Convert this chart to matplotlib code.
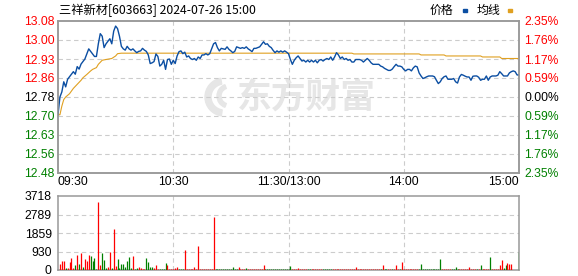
import numpy as np
import matplotlib
matplotlib.use("Agg")
import matplotlib.pyplot as plt
from matplotlib.patches import Rectangle, Wedge
from matplotlib.transforms import IdentityTransform

plt.rcParams['font.family'] = ['Liberation Sans', 'Noto Sans CJK SC', 'DejaVu Sans']

# ---- chart text / axes values
title = "三祥新材[603663] 2024-07-26 15:00"
prev_close = 12.78
price_labels = ["12.48", "12.56", "12.63", "12.70", "12.78", "12.86", "12.93", "13.00", "13.08"]
pct_labels = ["2.35%", "1.76%", "1.17%", "0.59%", "0.00%", "0.59%", "1.17%", "1.76%", "2.35%"]
time_ticks = [0, 60, 120, 180, 240]
time_labels = ["09:30", "10:30", "11:30/13:00", "14:00", "15:00"]
vol_labels = ["0", "930", "1859", "2789", "3718"]
vol_max = 3718

# ---- last price, one value per minute (09:30 .. 15:00)
price = [
    12.71, 12.78, 12.80, 12.84, 12.82, 12.85, 12.86, 12.87, 12.88, 12.87,
    12.90, 12.89, 12.91, 12.92, 12.93, 12.95, 12.97, 12.96, 12.95, 12.94,
    12.94, 12.99, 13.03, 13.02, 12.975, 12.99, 13.00, 13.01, 12.99, 13.04,
    13.06, 13.05, 13.02, 12.98, 12.97, 12.965, 12.98, 12.97, 12.965, 12.97,
    12.962, 12.955, 12.96, 12.962, 12.972, 12.965, 12.96, 12.946, 12.912, 12.915,
    12.92, 12.95, 12.94, 12.902, 12.909, 12.925, 12.889, 12.928, 12.93, 12.909,
    12.925, 12.912, 12.942, 12.959, 12.962, 12.951, 12.957, 12.938, 12.942, 12.932,
    12.928, 12.932, 12.925, 12.938, 12.932, 12.946, 12.946, 12.951, 12.946, 12.951,
    12.97, 12.99, 12.995, 12.975, 12.962, 12.972, 12.97, 12.968, 12.978, 12.968,
    12.962, 12.955, 12.96, 12.978, 12.975, 12.972, 12.975, 12.972, 12.978, 12.97,
    12.965, 12.959, 12.972, 12.972, 12.975, 12.978, 12.988, 12.998, 12.988, 12.99,
    12.98, 12.975, 12.964, 12.955, 12.962, 12.957, 12.962, 12.957, 12.962, 12.957,
    12.951, 12.928, 12.909, 12.925, 12.935, 12.942, 12.932, 12.922, 12.925, 12.918,
    12.925, 12.918, 12.925, 12.918, 12.925, 12.915, 12.925, 12.928, 12.922, 12.928,
    12.932, 12.928, 12.938, 12.925, 12.938, 12.955, 12.946, 12.932, 12.938, 12.928,
    12.932, 12.925, 12.928, 12.918, 12.918, 12.928, 12.928, 12.928, 12.925, 12.918,
    12.925, 12.932, 12.925, 12.915, 12.909, 12.909, 12.909, 12.909, 12.902, 12.899,
    12.893, 12.889, 12.885, 12.885, 12.89, 12.90, 12.909, 12.902, 12.902, 12.899,
    12.889, 12.883, 12.889, 12.889, 12.883, 12.895, 12.902, 12.899, 12.875, 12.863,
    12.853, 12.856, 12.86, 12.863, 12.863, 12.863, 12.86, 12.846, 12.833, 12.84,
    12.853, 12.86, 12.863, 12.85, 12.85, 12.85, 12.853, 12.84, 12.835, 12.859,
    12.869, 12.866, 12.862, 12.859, 12.859, 12.846, 12.862, 12.863, 12.863, 12.858,
    12.846, 12.85, 12.85, 12.863, 12.846, 12.859, 12.863, 12.863, 12.863, 12.866,
    12.88, 12.872, 12.863, 12.863, 12.863, 12.875, 12.88, 12.883, 12.88, 12.867,
    12.867,
]

# ---- average price line (minute, value) where it changes
avg_min = [0, 1, 2, 3, 4, 6, 8, 10, 12, 13, 15, 17, 18, 20, 21, 23, 25, 28, 30,
           31, 33, 153, 154, 188, 189, 201, 202, 220, 221, 230, 231, 240]
avg_val = [12.71, 12.71, 12.744, 12.77, 12.78, 12.793, 12.814, 12.83, 12.846, 12.856,
           12.869, 12.883, 12.889, 12.896, 12.909, 12.925, 12.928, 12.932, 12.942,
           12.951, 12.953, 12.953, 12.95, 12.95, 12.946, 12.946, 12.942, 12.942,
           12.938, 12.938, 12.932, 12.932]

# ---- volume per minute and up/down flag (r = up, g = down)
volume = [
    0, 300, 450, 450, 85, 85, 400, 600, 85, 250,
    750, 300, 850, 130, 550, 450, 750, 700, 450, 600,
    50, 3420, 250, 850, 500, 85, 130, 900, 85, 2060,
    200, 550, 85, 300, 300, 130, 450, 650, 85, 700,
    50, 85, 130, 85, 50, 50, 600, 400, 130, 130,
    85, 250, 50, 60, 60, 60, 350, 250, 60, 60,
    60, 85, 130, 60, 60, 60, 1000, 60, 60, 60,
    60, 130, 60, 1200, 60, 60, 60, 60, 60, 60,
    60, 2660, 60, 60, 60, 60, 60, 60, 60, 60,
    60, 130, 60, 60, 130, 60, 60, 60, 85, 60,
    60, 60, 60, 60, 60, 60, 60, 230, 60, 60,
    60, 60, 60, 60, 60, 60, 60, 60, 60, 60,
    60, 200, 60, 60, 60, 100, 60, 60, 60, 60,
    60, 60, 60, 60, 60, 60, 60, 60, 60, 60,
    60, 60, 60, 60, 60, 60, 60, 60, 60, 60,
    60, 60, 60, 60, 60, 130, 60, 60, 60, 60,
    60, 60, 60, 60, 60, 60, 60, 60, 60, 250,
    60, 60, 60, 60, 60, 60, 250, 60, 60, 400,
    60, 60, 60, 60, 60, 60, 60, 60, 60, 300,
    60, 60, 60, 60, 60, 60, 60, 60, 60, 550,
    60, 60, 60, 60, 60, 60, 60, 130, 60, 60,
    60, 60, 60, 60, 130, 60, 60, 60, 60, 60,
    250, 60, 60, 60, 60, 650, 60, 60, 60, 60,
    250, 500, 100, 250, 350, 300, 300, 0, 0, 0,
    900,
]
vol_dir = ("rrrrgrrrrg" "rgrgrrrggg" "grrgggrrgr" "rggggggggr" "ggrrrrgggg"
           "rrrggggrrr" "rrrgggrrrr" "rrrrrrrrrr" "rrgggggggg" "ggggrrrrgr"
           "rrrrrrrrgg" "gggggggggg" "ggrrrrrrrr" "ggrrrrrrgg" "gggrrrrrrr"
           "rrrrrrrrrr" "rrrrrrrrgr" "ggrrgrrrgr" "rrrrrrrrgg" "gggggggggg"
           "rrrrrggggr" "rrrrrrrrgr" "grrrrgrrrr" "rrggrrrrrr" "g")

RED = '#ff0000'
GREEN = '#008000'
BLUE = '#0b4ea2'
GOLD = '#e0a020'
BORDER = '#999999'
GRID = '#cccccc'
MARK = '#e6e6e6'

W, H = 578, 276
fig = plt.figure(figsize=(W / 100, H / 100), dpi=100)


def rect(x0, y0, x1, y1):
    # pixel box -> figure fraction
    return [x0 / W, 1 - y1 / H, (x1 - x0) / W, (y1 - y0) / H]


ax = fig.add_axes(rect(58, 21, 519, 173))
axv = fig.add_axes(rect(58, 196, 519, 270))

# watermark: rough logo + brand name
for c, r, t1, t2, w in [((224, 179), 19, 100, 262, 6), ((229, 180), 12, 110, 250, 4)]:
    ax.add_patch(Wedge(c, r, t1, t2, width=w, color=MARK,
                       transform=IdentityTransform(), zorder=0))
ax.text(0.54, 0.5, "东方财富", transform=ax.transAxes, fontsize=25,
        fontweight='bold', color=MARK, ha='center', va='center',
        family=['Noto Sans CJK SC'], zorder=0)

minutes = np.arange(len(price))
ax.plot(avg_min, avg_val, color=GOLD, lw=0.8, zorder=3)
ax.plot(minutes, price, color=BLUE, lw=1.0, zorder=4)

lo, hi = 12.48, 13.08
ax.set_xlim(0, 240)
ax.set_ylim(lo, hi)
yt = np.linspace(lo, hi, 9)
ax.set_yticks(yt)
ax.set_yticklabels(price_labels, fontsize=8.7)
for i, lab in enumerate(ax.get_yticklabels()):
    lab.set_color(GREEN if i < 4 else ('black' if i == 4 else RED))
ax.set_xticks(time_ticks)
ax.set_xticklabels(time_labels, fontsize=8.7)
xl = ax.get_xticklabels()
xl[0].set_ha('left')
xl[-1].set_ha('right')
ax.tick_params(length=0, pad=2.5)

ax2 = ax.twinx()
ax2.set_ylim(lo, hi)
ax2.set_yticks(yt)
ax2.set_yticklabels(pct_labels, fontsize=8.7)
for i, lab in enumerate(ax2.get_yticklabels()):
    lab.set_color(GREEN if i < 4 else ('black' if i == 4 else RED))
ax2.tick_params(length=0, pad=4)

for y in yt[1:-1]:
    ax.axhline(y, color=GRID, lw=0.8, ls=(0, (4, 3)), zorder=1)
for x in time_ticks[1:-1]:
    ax.axvline(x, color=GRID, lw=0.8, ls=(0, (4, 3)), zorder=1)

# volume
vcol = [RED if c == 'r' else GREEN for c in vol_dir]
axv.vlines(np.arange(len(volume)), 0, volume, colors=vcol, lw=0.9, zorder=3)
axv.set_xlim(0, 240)
axv.set_ylim(0, vol_max)
vt = np.linspace(0, vol_max, 5)
axv.set_yticks(vt)
axv.set_yticklabels(vol_labels, fontsize=8.7)
axv.set_xticks([])
axv.tick_params(length=0, pad=4.5)
for y in vt[1:-1]:
    axv.axhline(y, color=GRID, lw=0.8, ls=(0, (4, 3)), zorder=1)
for x in time_ticks[1:-1]:
    axv.axvline(x, color=GRID, lw=0.8, ls=(0, (4, 3)), zorder=1)

for a in (ax, ax2, axv):
    for s in a.spines.values():
        s.set_color(BORDER)
        s.set_linewidth(1.1)

# title and legend
fig.text(59 / W, 1 - 10 / H, title, fontsize=8.8, va='center', ha='left',
         family=['Noto Sans CJK SC', 'DejaVu Sans'])
fig.text(453 / W, 1 - 10 / H, "价格", fontsize=8.6, va='center', ha='right',
         family=['Noto Sans CJK SC'])
fig.text(500 / W, 1 - 10 / H, "均线", fontsize=8.6, va='center', ha='right',
         family=['Noto Sans CJK SC'])
fig.patches.append(Rectangle((463 / W, 1 - 12 / H), 4 / W, 3 / H, color=BLUE,
                             transform=fig.transFigure, figure=fig))
fig.patches.append(Rectangle((508 / W, 1 - 12 / H), 4 / W, 3 / H, color=GOLD,
                             transform=fig.transFigure, figure=fig))

fig.savefig("out.png", dpi=100)
